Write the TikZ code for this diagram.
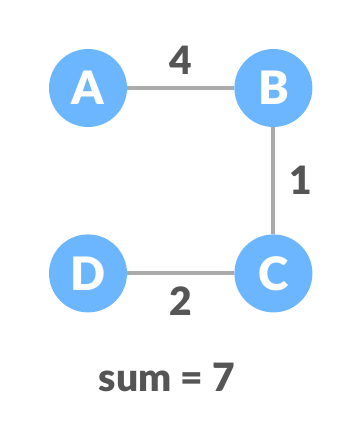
\documentclass[tikz,border=0pt]{standalone}
\usepackage{fontspec}
\IfFontExistsTF{Lato Black}{\setmainfont{Lato}[BoldFont={Lato Black}]}{\setmainfont{Lato}}
\usepackage{tikz}
\usetikzlibrary{positioning}
\definecolor{nodeblue}{HTML}{6CB6FF}
\definecolor{edgegray}{HTML}{AAAAAA}
\definecolor{textgray}{HTML}{555555}

\begin{document}
\begin{tikzpicture}[
    x=1pt, y=1pt,
    vertex/.style={circle, fill=nodeblue, minimum size=78pt, inner sep=0pt, text=white, font=\fontsize{46}{46}\selectfont\bfseries},
    edge/.style={draw=edgegray, line width=4pt},
    weight/.style={text=textgray, inner sep=0pt, font=\fontsize{39}{39}\selectfont\bfseries},
    node distance=107pt
]
\useasboundingbox (0,0) rectangle (362,-440);

% Vertices
\node[vertex] (a) at (88,-88) {A};
\node[vertex, right=of a] (b) {B};
\node[vertex, below=of b] (c) {C};
\node[vertex, left=of c] (d) {D};

% Edges
\draw[edge] (a) -- node[weight, above=12pt] {4} (b);
\draw[edge] (b) -- node[weight, right=14pt] {1} (c);
\draw[edge] (d) -- node[weight, below=11pt] {2} (c);

% Total
\node[weight] (sum) at (167,-377) {sum = 7};

\end{tikzpicture}
\end{document}
